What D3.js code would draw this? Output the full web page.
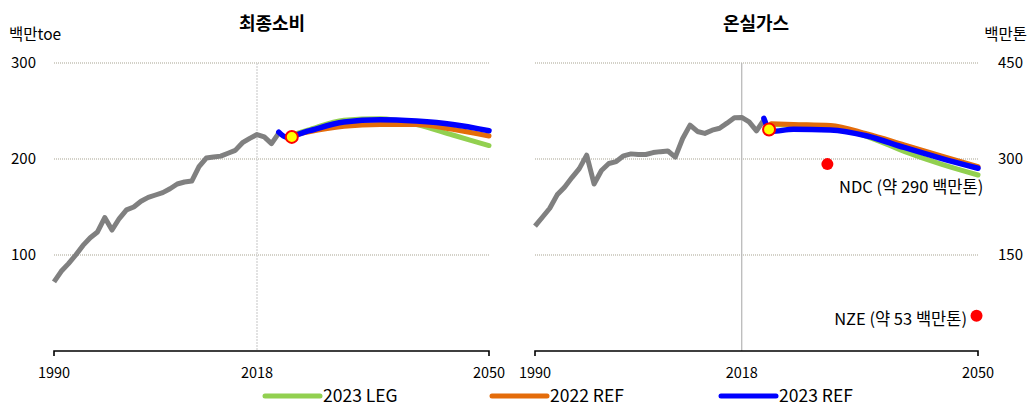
<!DOCTYPE html>
<html><head><meta charset="utf-8">
<script src="https://cdn.jsdelivr.net/npm/d3@7"></script>
<style>
body{margin:0;background:#fff;}
svg{display:block;font-family:"Noto Sans CJK KR","Noto Sans",sans-serif;}
</style></head>
<body><svg id="c" width="1032" height="407"></svg>
<script>
// ---- data ----
const histYears = d3.range(1990, 2022);
const histFinal = [72,83,91,100,110,118,124,139,126,138,147,150,156,160,162.5,165,169,174,176,177,192,201,202,203,206,209,217,221.5,225.5,223,216,227];
const histGhg = [195,209,223,244,256,271,285,306,261,282,293,296,305,308,307,307,310,311.5,312.5,303,332,353,343,340,345,348,356,364.5,365,358,344,361];

const projYears = [2021,2022,2025,2030,2035,2040,2045,2050];
const finalLEG23 = [null,223,230,240.5,242,236,225,214];
const finalREF22 = [null,223,228,234,236,236,231,224];
const finalREF23 = [228,223,229,238.5,241,239.5,236,229.5];
const ghgLEG23 = [null,354,353,351.5,335,312,292,275];
const ghgREF22 = [null,355,354,352.5,339,322,305,288];
const ghgREF23 = [363.5,343,346.5,345.5,336,318,301,285.5];

const finalMark = {year:2022.8, value:223};
const ghgMark = {year:2021.7, value:346};
const targets = [{label:"NDC (약 290 백만톤)", year:2029.6, value:292},
                 {label:"NZE (약 53 백만톤)", year:2049.8, value:55}];

const xTicks = [1990, 2018, 2050];
const finalTicks = [100, 200, 300];
const ghgTicks = [150, 300, 450];
const seriesNames = ["2023 LEG","2022 REF","2023 REF"];
const seriesColors = ["#92d050","#e46c0a","#0000ff"];

// ---- drawing ----
const svg = d3.select("#c");
const gray = "#808080";

function panel(opt){
  const x = d3.scaleLinear().domain([1990,2050]).range(opt.xr);
  const y = d3.scaleLinear().domain(opt.ydom).range([351,63]);
  const g = svg.append("g");
  g.selectAll(".grid").data(opt.ticks).join("line")
    .attr("x1",opt.xr[0]).attr("x2",opt.xr[1])
    .attr("y1",d=>y(d)).attr("y2",d=>y(d))
    .attr("stroke","#a7a392").attr("stroke-width",1.2).attr("stroke-dasharray","1,1");
  g.append("line").attr("x1",x(2018)).attr("x2",x(2018)).attr("y1",y(opt.ydom[1])).attr("y2",351)
    .attr("stroke",opt.vColor).attr("stroke-width",1.2).attr("stroke-dasharray",opt.vDash);
  g.selectAll(".yl").data(opt.ticks).join("text")
    .attr("x",opt.ylx).attr("y",d=>y(d)).attr("dy","0.35em")
    .attr("text-anchor",opt.ylAnchor).attr("font-size",15).attr("fill","#000").text(d=>d);
  const ax = d3.axisBottom(x).tickValues([1990,2050]).tickSize(5).tickFormat("");
  const axg = g.append("g").attr("transform","translate(0,351)").call(ax);
  axg.select(".domain").attr("stroke","#000").attr("stroke-width",1.6).attr("d",`M${x(1990)},5V0H${x(2050)}V5`);
  axg.selectAll(".tick line").remove();
  g.selectAll(".xl").data(xTicks).join("text")
    .attr("x",d=>x(d)).attr("y",373).attr("dy","0.35em").attr("text-anchor","middle")
    .attr("font-size",14.5).attr("fill","#000").text(d=>d);
  g.append("text").attr("x",opt.titleX).attr("y",24).attr("dy","0.35em").attr("text-anchor","middle")
    .attr("font-size",18).attr("font-weight","bold").text(opt.title);
  g.append("text").attr("x",opt.unitX).attr("y",35).attr("dy","0.35em").attr("text-anchor",opt.unitAnchor)
    .attr("font-size",15.5).text(opt.unit);
  const line = d3.line().defined(d=>d[1]!=null).x(d=>x(d[0])).y(d=>y(d[1])).curve(d3.curveMonotoneX);
  const histLine = d3.line().x(d=>x(d[0])).y(d=>y(d[1]));
  g.append("path").datum(histYears.map((yr,i)=>[yr,opt.hist[i]])).attr("d",histLine)
    .attr("fill","none").attr("stroke",gray).attr("stroke-width",5).attr("stroke-linejoin","round");
  opt.proj.forEach((s,k)=>{
    const data = projYears.map((yr,i)=>[yr,s[i]]).filter(d=>d[1]!=null);
    g.append("path").datum(data).attr("d",line)
      .attr("fill","none").attr("stroke",seriesColors[k]).attr("stroke-width",k==2?5.5:5)
      .attr("stroke-linejoin","round").attr("stroke-linecap","round");
  });
  g.append("circle").attr("cx",x(opt.mark.year)).attr("cy",y(opt.mark.value)).attr("r",6)
    .attr("fill","#ffff00").attr("stroke","#ff0000").attr("stroke-width",2);
  return {x,y,g};
}

panel({xr:[54,489], ydom:[0,300], ticks:finalTicks, hist:histFinal,
  proj:[finalLEG23,finalREF22,finalREF23], mark:finalMark,
  vColor:"#cfcfcf", vDash:"2,1", ylx:36, ylAnchor:"end",
  title:"최종소비", titleX:272, unit:"백만toe", unitX:9, unitAnchor:"start"});

const R = panel({xr:[535,978], ydom:[0,450], ticks:ghgTicks, hist:histGhg,
  proj:[ghgLEG23,ghgREF22,ghgREF23], mark:ghgMark,
  vColor:"#b4b4b4", vDash:null, ylx:998, ylAnchor:"start",
  title:"온실가스", titleX:756, unit:"백만톤", unitX:1027, unitAnchor:"end"});

R.g.selectAll(".tgt").data(targets).join("circle")
  .attr("cx",d=>R.x(d.year)).attr("cy",d=>R.y(d.value)).attr("r",6).attr("fill","#ff0000");
R.g.append("text").attr("x",839).attr("y",187).attr("dy","0.35em").attr("font-size",16.5).text(targets[0].label);
R.g.append("text").attr("x",967).attr("y",319).attr("dy","0.35em").attr("text-anchor","end").attr("font-size",16.5).text(targets[1].label);

const legX = [265, 492, 721];
const lg = svg.append("g");
seriesNames.forEach((n,i)=>{
  lg.append("line").attr("x1",legX[i]).attr("x2",legX[i]+55).attr("y1",396).attr("y2",396)
    .attr("stroke",seriesColors[i]).attr("stroke-width",5).attr("stroke-linecap","round");
  lg.append("text").attr("x",legX[i]+58).attr("y",396).attr("dy","0.35em").attr("font-size",17.5).text(n);
});
</script></body></html>
